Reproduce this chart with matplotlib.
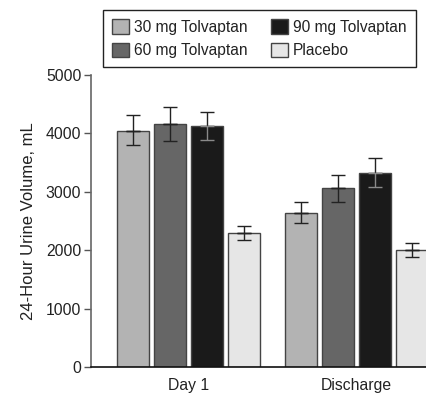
import numpy as np
import matplotlib.pyplot as plt

plt.rcParams['font.family'] = ['Liberation Sans', 'DejaVu Sans']

groups = ['Day 1', 'Discharge']
series = ['30 mg Tolvaptan', '60 mg Tolvaptan', '90 mg Tolvaptan', 'Placebo']
colors = ['#b3b3b3', '#666666', '#1a1a1a', '#e6e6e6']
means = [[4050, 2640], [4170, 3060], [4120, 3330], [2290, 2000]]
err_hi = [[4320, 2820], [4460, 3290], [4360, 3580], [2420, 2130]]
err_lo = [[3800, 2470], [3870, 2830], [3890, 3080], [2170, 1880]]

fig = plt.figure(figsize=(4.27, 3.97), dpi=100)
ax = fig.add_axes([91/427, 1-367.3/397, 349/427, (367.3-75)/397])

x = np.arange(len(groups))
w = 0.19
step = 0.22
handles = []
for i, name in enumerate(series):
    xi = x + (i - 1.5)*step
    m = np.array(means[i])
    hi = np.array(err_hi[i]) - m
    lo = m - np.array(err_lo[i])
    b = ax.bar(xi, m, w, color=colors[i], edgecolor='#444444', linewidth=1.0,
               label=name, zorder=2)
    handles.append(b)
    # lower half of the error bar shows lighter inside the black bars
    low_col = '#8a8a8a' if i == 2 else '#222222'
    ax.errorbar(xi, m, yerr=[np.zeros_like(lo), hi], fmt='none', ecolor='#222222',
                elinewidth=1.0, capsize=5, capthick=1.0, zorder=3)
    ax.errorbar(xi, m, yerr=[lo, np.zeros_like(hi)], fmt='none', ecolor=low_col,
                elinewidth=1.0, capsize=5, capthick=1.0, zorder=3)

ax.set_xlim(-0.58, 1.497)
ax.set_ylim(0, 5000)
ax.set_yticks([0, 1000, 2000, 3000, 4000, 5000])
ax.set_xticks(x)
ax.set_xticklabels(groups)
ax.tick_params(axis='x', length=0, pad=8, labelsize=11.3, labelcolor='#222222')
ax.tick_params(axis='y', length=5, width=1, color='#555555', pad=2,
               labelsize=11.3, labelcolor='#222222')
for s in ['top', 'right']:
    ax.spines[s].set_visible(False)
ax.spines['left'].set_color('#666666')
ax.spines['left'].set_linewidth(1.2)
ax.spines['bottom'].set_color('#111111')
ax.spines['bottom'].set_linewidth(1.2)
ax.set_ylabel('24-Hour Urine Volume, mL', fontsize=12, color='#222222', labelpad=7)

fig.legend(handles=handles, labels=series, ncol=2, loc='upper left',
           bbox_to_anchor=(103/427, 1-67/397, 313/427, 57/397), mode='expand',
           fontsize=11.2, handlelength=1.05, handleheight=1.05, handletextpad=0.35,
           columnspacing=1.5, labelspacing=0.5, borderpad=0.6, borderaxespad=0,
           fancybox=False, framealpha=1, edgecolor='#222222', labelcolor='#222222')
fig.legends[0].get_frame().set_linewidth(1.0)

fig.savefig('out.png', dpi=100)
